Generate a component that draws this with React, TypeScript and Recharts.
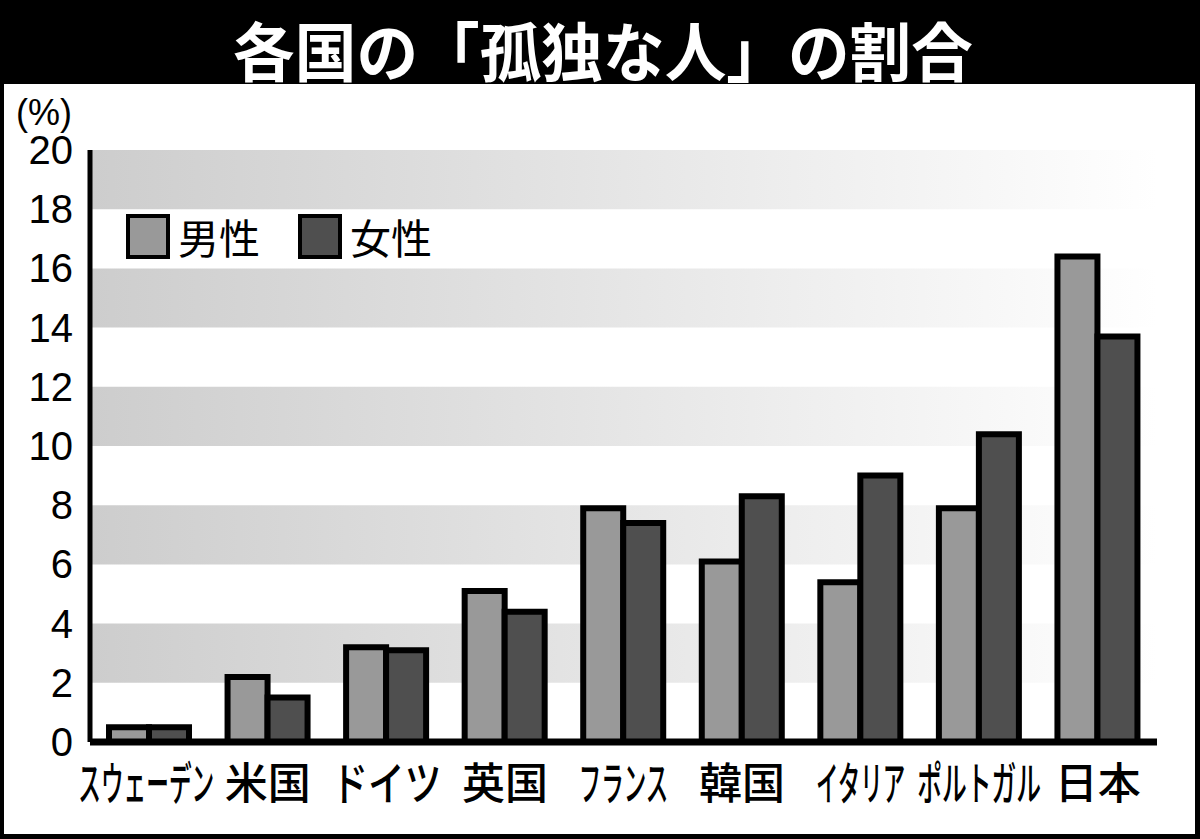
import React from 'react';
import { BarChart, Bar, XAxis, YAxis, ReferenceArea, Legend } from 'recharts';

const countries = ['スウェーデン', '米国', 'ドイツ', '英国', 'フランス', '韓国', 'イタリア', 'ポルトガル', '日本'];
const maleValues = [0.5, 2.2, 3.2, 5.1, 7.9, 6.1, 5.4, 7.9, 16.4];
const femaleValues = [0.5, 1.5, 3.1, 4.4, 7.4, 8.3, 9.0, 10.4, 13.7];
const yTicks = [0, 2, 4, 6, 8, 10, 12, 14, 16, 18, 20];
const bandRanges: [number, number][] = [[2, 4], [6, 8], [10, 12], [14, 16], [18, 20]];
const seriesNames = ['男性', '女性'];
const titleText = '各国の「孤独な人」の割合';
const unitText = '(%)';

const data = countries.map((c, i) => ({ name: c, male: maleValues[i], female: femaleValues[i] }));

const CJK = '"Noto Sans CJK JP", sans-serif';
const NUM = '"Liberation Sans", Arial, sans-serif';
const MALE_FILL = '#999999';
const FEMALE_FILL = '#4f4f4f';

// target drawn widths (px) for the condensed katakana labels
const condensedWidth: Record<string, number> = {
  'スウェーデン': 136,
  'ドイツ': 110,
  'フランス': 90,
  'イタリア': 90,
  'ポルトガル': 124,
};

const XTick = (props: any) => {
  const { x, y, payload } = props;
  const label: string = payload.value;
  const w = condensedWidth[label];
  const fs = w ? 46 : 43;
  const sx = w ? w / (label.length * fs) : 1;
  const cx = x - (label === 'スウェーデン' ? 3 : 0);
  return (
    <text
      transform={`translate(${cx},${y + 36}) scale(${sx},1)`}
      x={0}
      y={0}
      textAnchor="middle"
      dominantBaseline="central"
      fontFamily={CJK}
      fontSize={fs}
      fontWeight={500}
      fill="#000"
    >
      {label}
    </text>
  );
};

const YTick = (props: any) => {
  const { x, y, payload } = props;
  return (
    <text x={x} y={y} textAnchor="end" dominantBaseline="central" fontFamily={NUM} fontSize={40} fill="#000">
      {payload.value}
    </text>
  );
};

const LegendContent = () => (
  <div style={{ display: 'flex', alignItems: 'center', fontFamily: CJK, fontSize: 41, color: '#000' }}>
    {[MALE_FILL, FEMALE_FILL].map((fill, i) => (
      <div key={i} style={{ display: 'flex', alignItems: 'center', marginRight: i === 0 ? 38 : 0 }}>
        <div style={{ width: 36, height: 37, background: fill, border: '4px solid #000', marginRight: 8 }} />
        <span style={{ lineHeight: '46px' }}>{seriesNames[i]}</span>
      </div>
    ))}
  </div>
);

const TITLE_FS = 64;
const titleScale = 740 / (titleText.length * TITLE_FS);

export default function App() {
  return (
    <div style={{ position: 'absolute', left: 0, top: 0, width: 1200, height: 839, background: '#000', overflow: 'hidden' }}>
      <div style={{ position: 'absolute', left: 4, top: 84, width: 1191, height: 750, background: '#fff' }} />
      <svg width={1200} height={839} style={{ position: 'absolute', left: 0, top: 0 }}>
        <text
          transform={`translate(603,48) scale(${titleScale},1)`}
          x={0}
          y={0}
          textAnchor="middle"
          dominantBaseline="central"
          fontFamily={CJK}
          fontWeight={700}
          fontSize={TITLE_FS}
          fill="#fff"
        >
          {titleText}
        </text>
        <text x={44} y={112} textAnchor="middle" dominantBaseline="central" fontFamily={NUM} fontSize={36} fill="#000">
          {unitText}
        </text>
      </svg>
      <div style={{ position: 'absolute', left: 0, top: 0 }}>
        <BarChart
          width={1200}
          height={839}
          data={data}
          margin={{ top: 150, right: 43, bottom: 67, left: 0 }}
          barSize={40}
          barGap={0}
        >
          <defs>
            <linearGradient id="bandGrad" x1="0" y1="0" x2="1" y2="0">
              <stop offset="0%" stopColor="#cdcdcd" />
              <stop offset="100%" stopColor="#ffffff" />
            </linearGradient>
          </defs>
          {bandRanges.map(([a, b], i) => (
            <ReferenceArea key={i} y1={a} y2={b} fill="url(#bandGrad)" fillOpacity={1} stroke="none" ifOverflow="extendDomain" />
          ))}
          <XAxis
            dataKey="name"
            height={30}
            axisLine={{ stroke: '#000', strokeWidth: 7 }}
            tickLine={false}
            tickSize={0}
            tick={<XTick />}
            interval={0}
          />
          <YAxis
            width={90}
            domain={[0, 20]}
            ticks={yTicks}
            axisLine={{ stroke: '#000', strokeWidth: 5 }}
            tickLine={false}
            tickSize={0}
            tickMargin={17}
            tick={<YTick />}
          />
          <Legend
            layout="vertical"
            align="center"
            verticalAlign="middle"
            content={<LegendContent />}
            wrapperStyle={{ position: 'absolute', left: 126, top: 213, width: 420, height: 50 }}
          />
          <Bar dataKey="male" name={seriesNames[0]} fill={MALE_FILL} stroke="#000" strokeWidth={6} isAnimationActive={false} />
          <Bar dataKey="female" name={seriesNames[1]} fill={FEMALE_FILL} stroke="#000" strokeWidth={6} isAnimationActive={false} />
        </BarChart>
      </div>
    </div>
  );
}
